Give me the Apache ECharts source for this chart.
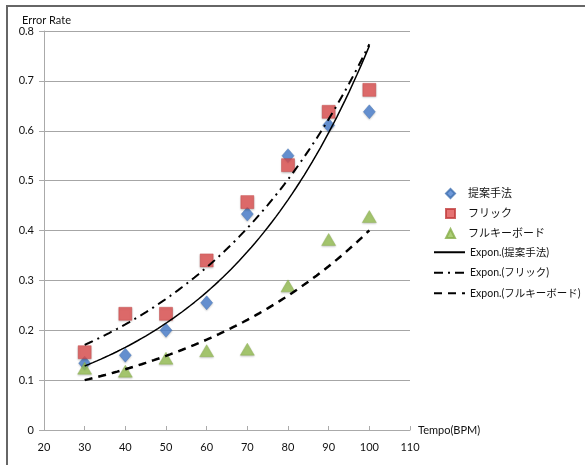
<!DOCTYPE html>
<html>
<head>
<meta charset="utf-8">
<script src="https://cdn.jsdelivr.net/npm/echarts@6/dist/echarts.min.js"></script>
<style>
html, body { margin: 0; padding: 0; background: #fff; }
#chart { width: 585px; height: 465px; }
</style>
</head>
<body>
<div id="chart"></div>
<script>
// テンポ（BPM）
var tempo = [30, 40, 50, 60, 70, 80, 90, 100];
// 各手法のエラー率
var teian = [0.134, 0.150, 0.200, 0.255, 0.433, 0.550, 0.611, 0.638];
var flick = [0.156, 0.233, 0.233, 0.340, 0.457, 0.531, 0.638, 0.682];
var fullkb = [0.124, 0.118, 0.144, 0.159, 0.162, 0.289, 0.382, 0.428];
var names = ['提案手法', 'フリック', 'フルキーボード'];
var trendNames = ['Expon.(提案手法)', 'Expon.(フリック)', 'Expon.(フルキーボード)'];

var FONT = 'Lato, "Noto Sans CJK JP", sans-serif';

/**
 * 指数近似 y = a * e^(b x)（ln y の最小二乗）
 */
function expTrend(xs, ys) {
	var n = xs.length, mx = 0, my = 0;
	for (var i = 0; i < n; i++) { mx += xs[i]; my += Math.log(ys[i]); }
	mx /= n; my /= n;
	var sxy = 0, sxx = 0;
	for (var j = 0; j < n; j++) {
		sxy += (xs[j] - mx) * (Math.log(ys[j]) - my);
		sxx += (xs[j] - mx) * (xs[j] - mx);
	}
	var b = sxy / sxx, lnA = my - b * mx;
	var pts = [];
	for (var x = xs[0]; x <= xs[n - 1]; x += 1) {
		pts.push([x, Math.exp(lnA + b * x)]);
	}
	return pts;
}

function pairs(ys) {
	return tempo.map(function (t, i) { return [t, ys[i]]; });
}

var myChart = echarts.init(document.getElementById('chart'));
var option = {
	backgroundColor: '#fff',
	animation: false,
	textStyle: { fontFamily: FONT },
	graphic: [{
		type: 'rect',
		shape: { x: 7, y: 6, width: 640, height: 520 },
		style: { fill: 'none', stroke: '#666', lineWidth: 2 },
		silent: true
	}],
	grid: { left: 44, right: 175, top: 31, bottom: 35 },
	legend: [
		{
			// マーカー
			orient: 'vertical',
			left: 440,
			top: 183,
			padding: 5,
			itemWidth: 9,
			itemHeight: 9,
			itemGap: 9,
			textStyle: { fontFamily: FONT, fontSize: 11, color: '#111', padding: [0, 0, 0, 8] },
			data: [
				{ name: names[0], icon: 'diamond' },
				{ name: names[1], icon: 'rect' },
				{ name: names[2], icon: 'triangle' }
			]
		},
		{
			// 近似曲線
			orient: 'vertical',
			left: 428,
			top: 242,
			padding: 5,
			itemWidth: 31,
			itemHeight: 10,
			itemGap: 10,
			itemStyle: { opacity: 0 },
			textStyle: { fontFamily: FONT, fontSize: 10.5, color: '#111' },
			data: trendNames
		}
	],
	xAxis: {
		type: 'value',
		min: 20, max: 110, interval: 10,
		name: 'Tempo(BPM)',
		nameLocation: 'end',
		nameGap: 8,
		nameTextStyle: { fontFamily: FONT, fontSize: 11, color: '#111', verticalAlign: 'middle' },
		axisLine: { onZero: false, lineStyle: { color: '#aaa' } },
		axisTick: { inside: true, length: 4, lineStyle: { color: '#aaa' } },
		axisLabel: { fontSize: 11, color: '#111', margin: 12 },
		splitLine: { show: false }
	},
	yAxis: {
		type: 'value',
		min: 0, max: 0.8, interval: 0.1,
		name: 'Error Rate',
		nameLocation: 'end',
		nameGap: 5,
		nameTextStyle: { fontFamily: FONT, fontSize: 11, color: '#111', align: 'left', padding: [0, 0, 0, -22] },
		axisLine: { show: true, lineStyle: { color: '#aaa' } },
		axisTick: { show: true, length: 5, lineStyle: { color: '#aaa' } },
		axisLabel: { fontSize: 11, color: '#111', margin: 10,
			formatter: function (v) { return v === 0 ? '0' : v.toFixed(1); } },
		splitLine: { lineStyle: { color: '#a6a6a6', width: 1 } }
	},
	series: [
		{
			name: names[0], type: 'scatter', symbol: 'diamond', symbolSize: [12, 14],
			itemStyle: { color: '#4A80CF', borderColor: '#3F6FB0', borderWidth: 0.5,
				shadowColor: 'rgba(0,0,0,0.25)', shadowBlur: 2, shadowOffsetY: 1 },
			data: pairs(teian), z: 3
		},
		{
			name: names[1], type: 'scatter', symbol: 'rect', symbolSize: 13,
			itemStyle: { color: '#E05050', borderColor: '#C03C3C', borderWidth: 0.5,
				shadowColor: 'rgba(0,0,0,0.25)', shadowBlur: 2, shadowOffsetY: 1 },
			data: pairs(flick), z: 3
		},
		{
			name: names[2], type: 'scatter', symbol: 'triangle', symbolSize: [14, 12],
			itemStyle: { color: '#98C255', borderColor: '#86AD48', borderWidth: 0.5,
				shadowColor: 'rgba(0,0,0,0.25)', shadowBlur: 2, shadowOffsetY: 1 },
			data: pairs(fullkb), z: 3
		},
		{
			name: trendNames[0], type: 'line', showSymbol: false, symbol: 'none',
			lineStyle: { color: '#000', width: 1.5, type: 'solid' },
			itemStyle: { color: '#000' },
			data: expTrend(tempo, teian), z: 4
		},
		{
			name: trendNames[1], type: 'line', showSymbol: false, symbol: 'none',
			lineStyle: { color: '#000', width: 2, type: [9, 5, 2, 5] },
			itemStyle: { color: '#000' },
			data: expTrend(tempo, flick), z: 4
		},
		{
			name: trendNames[2], type: 'line', showSymbol: false, symbol: 'none',
			lineStyle: { color: '#000', width: 2.5, type: [8, 6] },
			itemStyle: { color: '#000' },
			data: expTrend(tempo, fullkb), z: 4
		}
	]
};
myChart.setOption(option);
</script>
</body>
</html>
